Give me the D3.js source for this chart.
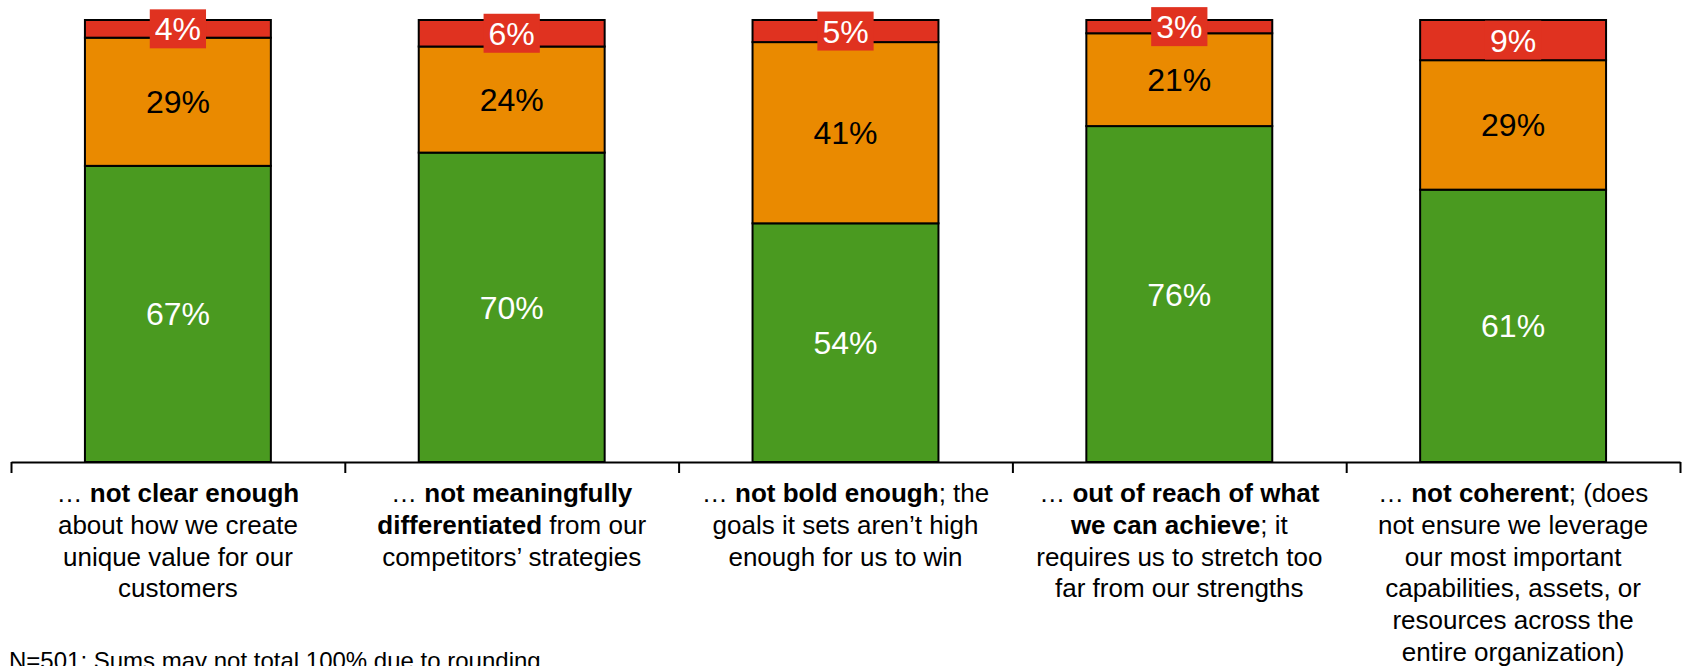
<!DOCTYPE html>
<html>
<head>
<meta charset="utf-8">
<script src="https://cdn.jsdelivr.net/npm/d3@7"></script>
<style>
  html, body { margin: 0; padding: 0; background: #fff; }
  svg { display: block; font-family: "Liberation Sans", Arial, sans-serif; }
</style>
</head>
<body>
<div class="chart"></div>
<script>
'use strict';

// categories: each line of the label, **bold** marks the bold part
var categories = [
    ["… **not clear enough**", "about how we create", "unique value for our", "customers"],
    ["… **not meaningfully**", "**differentiated** from our", "competitors’ strategies"],
    ["… **not bold enough**; the", "goals it sets aren’t high", "enough for us to win"],
    ["… **out of reach of what**", "**we can achieve**; it", "requires us to stretch too", "far from our strengths"],
    ["… **not coherent**; (does", "not ensure we leverage", "our most important", "capabilities, assets, or", "resources across the", "entire organization)"]
];
var green = [67, 70, 54, 76, 61];
var orange = [29, 24, 41, 21, 29];
var red = [4, 6, 5, 3, 9];
var note = "N=501; Sums may not total 100% due to rounding";

var width = 1683, height = 666;
var colors = {green: "#4a9a20", orange: "#ea8a00", red: "#e03220"};
var textColors = {green: "#fff", orange: "#000", red: "#fff"};

var rows = categories.map(function(c, i) {
    return {id: i, green: green[i], orange: orange[i], red: red[i]};
});

var svg = d3.select("div.chart")
    .append("svg")
    .attr("width", width)
    .attr("height", height);

var x = d3.scaleBand().domain(rows.map(function(d){return d.id;})).range([11, 1680]);
var xEdge = d3.scaleLinear().domain([0, categories.length]).range([11, 1680]);
var y = d3.scaleLinear().domain([0, 1]).range([462, 20]);
var barW = x.bandwidth() * 0.557;

// each bar fills the full height (shares), labels keep the printed values
var stack = d3.stack().keys(["green", "orange", "red"]).offset(d3.stackOffsetExpand);
var series = stack(rows);

var layer = svg.selectAll("g.layer")
    .data(series)
    .enter()
    .append("g")
    .attr("class", "layer");

layer.selectAll("rect")
    .data(function(s){ return s.map(function(p){ return {key: s.key, p: p}; }); })
    .enter()
    .append("rect")
    .attr("x", function(d){ return x(d.p.data.id) + (x.bandwidth() - barW) / 2; })
    .attr("y", function(d){ return y(d.p[1]); })
    .attr("width", barW)
    .attr("height", function(d){ return y(d.p[0]) - y(d.p[1]); })
    .attr("fill", function(d){ return colors[d.key]; })
    .attr("stroke", "#000")
    .attr("stroke-width", 2);

// value labels (red ones sit on a red box so they stay readable)
series.forEach(function(s) {
    s.forEach(function(p) {
        var cx = x(p.data.id) + x.bandwidth() / 2;
        var cy = (y(p[0]) + y(p[1])) / 2;
        var label = p.data[s.key] + "%";
        var g = svg.append("g");
        var t = g.append("text")
            .attr("x", cx)
            .attr("y", cy)
            .attr("dy", "0.36em")
            .attr("text-anchor", "middle")
            .attr("font-size", 32)
            .attr("fill", textColors[s.key])
            .text(label);
        if (s.key === "red") {
            var w = t.node().getComputedTextLength() + 10;
            g.insert("rect", "text")
                .attr("x", cx - w / 2)
                .attr("y", cy - 19.5)
                .attr("width", w)
                .attr("height", 39)
                .attr("fill", colors.red);
        }
    });
});

// axis with ticks between categories
var axis = d3.axisBottom(xEdge)
    .tickValues(d3.range(categories.length + 1))
    .tickSize(11)
    .tickSizeOuter(0)
    .tickFormat("");
svg.append("g")
    .attr("transform", "translate(0,462)")
    .call(axis)
    .call(function(g) {
        g.selectAll("path, line").attr("stroke", "#000").attr("stroke-width", 2);
    });

// category labels
categories.forEach(function(lines, i) {
    var t = svg.append("text")
        .attr("text-anchor", "middle")
        .attr("font-size", 26)
        .attr("fill", "#000");
    lines.forEach(function(line, j) {
        var tl = t.append("tspan")
            .attr("x", x(i) + x.bandwidth() / 2)
            .attr("y", 502 + j * 31.8);
        line.split("**").forEach(function(part, k) {
            if (!part) return;
            tl.append("tspan")
                .attr("font-weight", k % 2 ? "bold" : "normal")
                .text(part);
        });
    });
});

svg.append("text")
    .attr("x", 9)
    .attr("y", 669)
    .attr("font-size", 24)
    .attr("fill", "#000")
    .text(note);

function out(str) {
    console.log(str);
}
out("bars: " + rows.length);
</script>
</body>
</html>
